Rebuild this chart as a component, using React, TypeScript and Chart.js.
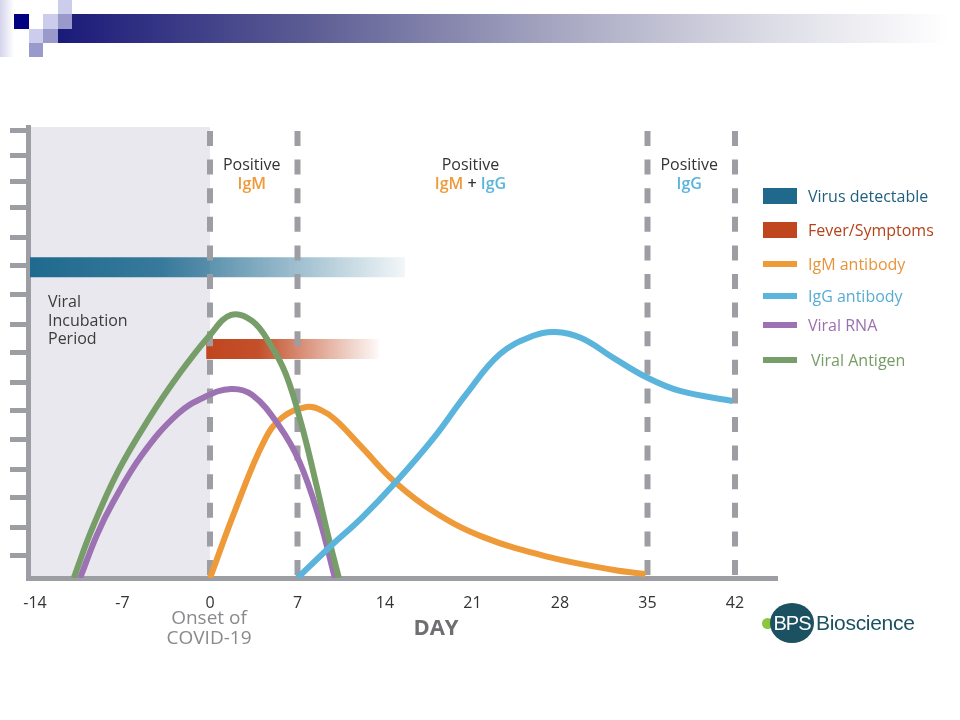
import { useEffect, useRef } from "react";
import { Chart, registerables } from "chart.js";

Chart.register(...registerables);

// ---------- data ----------
const xTickValues = [-14, -7, 0, 7, 14, 21, 28, 35, 42];
const yTickMarks = [0.77, 1.78, 2.8, 3.81, 4.83, 5.84, 6.85, 7.87, 8.88, 9.9, 10.91, 11.92, 12.94, 13.88, 14.79, 15.66];
const phaseDays = [0, 7, 35, 42];

const antigenDays = [-10.9, -9.47, -7.38, -4.86, -2.35, 0, 1.69, 3.37, 4.81, 6.07, 7.31, 8.49, 9.44, 10.31];
const antigenLevel = [0, 1.68, 3.71, 5.59, 7.2, 8.5, 9.2, 8.99, 8.18, 7.13, 5.38, 3.29, 1.5, 0];

const rnaDays = [-10.39, -9.05, -7.79, -5.45, -2.6, -0.42, 1.69, 3.37, 5.48, 7.16, 8.73, 9.99];
const rnaLevel = [0, 1.5, 2.62, 4.3, 5.73, 6.33, 6.61, 6.4, 5.35, 4.06, 2.1, 0];

const igmDays = [0, 2.11, 4.38, 5.82, 7.71, 8.89, 10.07, 12.19, 14.79, 17.94, 21.87, 27.14, 32.33, 34.85];
const igmLevel = [0, 2.48, 4.83, 5.63, 5.98, 5.87, 5.52, 4.55, 3.36, 2.31, 1.43, 0.73, 0.28, 0.14];

const iggDays = [7.0, 9.5, 12.2, 14.8, 17.9, 20.5, 23.2, 25.8, 27.6, 29.7, 32.3, 35.0, 37.6, 41.8];
const iggLevel = [0, 1.05, 2.13, 3.32, 4.9, 6.43, 7.83, 8.46, 8.6, 8.39, 7.69, 7.0, 6.54, 6.19];

const virusSpan = [-14.4, 15.6];
const virusLevel = 10.87;
const feverSpan = [-0.3, 13.5];
const feverLevel = 8.01;

const X_MIN = -14.56;
const X_MAX = 45.36;
const Y_MAX = 15.77;

const C_VIRUS = "#20698c";
const C_FEVER = "#c0461f";
const C_IGM = "#ef9a39";
const C_IGG = "#5ab4dc";
const C_RNA = "#9c72b2";
const C_ANTIGEN = "#779e68";
const C_GRAY = "#9d9da4";
const C_SHADE = "#e8e8ee";
const FONT = "'Open Sans', 'Noto Sans', sans-serif";

const legendItems = [
  { label: "Virus detectable", color: C_VIRUS, text: "#1f5f80", y: 196, box: true },
  { label: "Fever/Symptoms", color: C_FEVER, text: "#b4431c", y: 230, box: true },
  { label: "IgM antibody", color: C_IGM, text: "#e8943a", y: 264, box: false },
  { label: "IgG antibody", color: C_IGG, text: "#58acd4", y: 296, box: false },
  { label: "Viral RNA", color: C_RNA, text: "#9a70b0", y: 325, box: false },
  { label: "Viral Antigen", color: C_ANTIGEN, text: "#769c66", y: 360, box: false },
];

const pts = (xs: number[], ys: number[]) => xs.map((x, i) => ({ x, y: ys[i] }));

const makeGradient = (chart: any, span: number[], rgb: string, stops: number[][]) => {
  const xs = chart.scales?.x;
  if (!chart.chartArea || !xs) return `rgb(${rgb})`;
  const g = chart.ctx.createLinearGradient(xs.getPixelForValue(span[0]), 0, xs.getPixelForValue(span[1]), 0);
  stops.forEach(([p, a]) => g.addColorStop(p, `rgba(${rgb},${a})`));
  return g;
};

const drawPlugin = {
  id: "decor",
  beforeDraw(chart: any) {
    const { ctx, chartArea, scales } = chart;
    const x0 = scales.x.getPixelForValue(0);
    ctx.save();
    ctx.fillStyle = C_SHADE;
    ctx.fillRect(chartArea.left, chartArea.top, x0 - chartArea.left, chartArea.bottom - chartArea.top);
    ctx.restore();
  },
  afterDraw(chart: any) {
    const { ctx, scales } = chart;
    const xs = scales.x;
    ctx.save();
    ctx.textAlign = "center";
    ctx.textBaseline = "alphabetic";
    ctx.font = `16px ${FONT}`;
    ctx.fillStyle = "#333333";
    const mids = [
      (phaseDays[0] + phaseDays[1]) / 2,
      (phaseDays[1] + phaseDays[2]) / 2,
      (phaseDays[2] + phaseDays[3]) / 2,
    ];
    mids.forEach((d) => ctx.fillText("Positive", xs.getPixelForValue(d) - 2, 170));
    ctx.font = `600 16px ${FONT}`;
    ctx.fillStyle = C_IGM;
    ctx.fillText("IgM", xs.getPixelForValue(mids[0]) - 2, 189);
    ctx.fillStyle = C_IGG;
    ctx.fillText("IgG", xs.getPixelForValue(mids[2]) - 2, 189);
    const parts: [string, string][] = [["IgM", C_IGM], [" + ", "#333333"], ["IgG", C_IGG]];
    const widths = parts.map((p) => ctx.measureText(p[0]).width);
    const total = widths.reduce((a, b) => a + b, 0);
    let cx = xs.getPixelForValue(mids[1]) - 2 - total / 2;
    ctx.textAlign = "left";
    parts.forEach((p, i) => {
      ctx.fillStyle = p[1];
      ctx.fillText(p[0], cx, 189);
      cx += widths[i];
    });
    ctx.font = `16px ${FONT}`;
    ctx.fillStyle = "#3c3c3c";
    ["Viral", "Incubation", "Period"].forEach((t, i) => ctx.fillText(t, 48, 307 + i * 18.5));
    ctx.textAlign = "center";
    ctx.font = `19px ${FONT}`;
    ctx.fillStyle = "#8a8a8e";
    const x0 = xs.getPixelForValue(0) - 1;
    ctx.fillText("Onset of", x0, 624);
    ctx.fillText("COVID-19", x0, 644);
    ctx.font = `bold 22px ${FONT}`;
    ctx.fillStyle = "#6e6e73";
    ctx.fillText("DAY", 436, 635);
    ctx.restore();
  },
};

function ChartCanvas() {
  const ref = useRef<HTMLCanvasElement | null>(null);
  useEffect(() => {
    if (!ref.current) return;
    const curve = (label: string, xs: number[], ys: number[], color: string, order: number) => ({
      label,
      data: pts(xs, ys),
      borderColor: color,
      borderWidth: 6,
      tension: 0.4,
      pointRadius: 0,
      fill: false,
      order,
    });
    const dashed = phaseDays.map((d) => ({
      label: `day${d}`,
      data: [{ x: d, y: 0 }, { x: d, y: Y_MAX }],
      borderColor: C_GRAY,
      borderWidth: 6,
      borderDash: [15, 13.6],
      borderDashOffset: 25.6,
      pointRadius: 0,
      fill: false,
      tension: 0,
      order: 5,
    }));
    const chart = new Chart(ref.current, {
      type: "line",
      data: {
        datasets: [
          curve("IgG antibody", iggDays, iggLevel, C_IGG, 1),
          curve("Viral Antigen", antigenDays, antigenLevel, C_ANTIGEN, 2),
          curve("Viral RNA", rnaDays, rnaLevel, C_RNA, 3),
          curve("IgM antibody", igmDays, igmLevel, C_IGM, 4),
          ...dashed,
          {
            label: "Virus detectable",
            data: [{ x: virusSpan[0], y: virusLevel }, { x: virusSpan[1], y: virusLevel }],
            borderColor: (c: any) =>
              makeGradient(c.chart, virusSpan, "31,106,143", [[0, 1], [0.35, 0.88], [0.62, 0.55], [1, 0.06]]),
            borderWidth: 20,
            pointRadius: 0,
            fill: false,
            order: 10,
          } as any,
          {
            label: "Fever/Symptoms",
            data: [{ x: feverSpan[0], y: feverLevel }, { x: feverSpan[1], y: feverLevel }],
            borderColor: (c: any) =>
              makeGradient(c.chart, feverSpan, "192,70,31", [[0, 1], [0.3, 0.95], [0.6, 0.55], [1, 0.03]]),
            borderWidth: 20,
            pointRadius: 0,
            fill: false,
            order: 10,
          } as any,
        ],
      },
      options: {
        animation: false,
        responsive: false,
        devicePixelRatio: 1,
        events: [],
        layout: { padding: { left: 10, right: 183, top: 127, bottom: 82 } },
        plugins: { legend: { display: false }, tooltip: { enabled: false } },
        scales: {
          x: {
            type: "linear",
            min: X_MIN,
            max: X_MAX,
            afterFit: (s: any) => {
              s.height = 60;
            },
            afterBuildTicks: (s: any) => {
              s.ticks = xTickValues.map((value) => ({ value }));
            },
            grid: { display: false },
            border: { display: true, color: C_GRAY, width: 5 },
            ticks: {
              padding: 8,
              color: "#333333",
              font: { family: FONT, size: 16 },
              maxRotation: 0,
              autoSkip: false,
              callback: (v: any) => String(v),
            },
          },
          y: {
            type: "linear",
            min: 0,
            max: Y_MAX,
            afterFit: (s: any) => {
              s.width = 18;
            },
            afterBuildTicks: (s: any) => {
              s.ticks = yTickMarks.map((value) => ({ value }));
            },
            grid: {
              display: true,
              drawOnChartArea: false,
              drawTicks: true,
              tickLength: 18,
              tickWidth: 5,
              tickColor: C_GRAY,
            },
            border: { display: true, color: C_GRAY, width: 5 },
            ticks: { display: false },
          },
        },
      } as any,
      plugins: [drawPlugin],
    });
    return () => chart.destroy();
  }, []);
  return <canvas ref={ref} width={960} height={720} style={{ display: "block", width: 960, height: 720 }} />;
}

function Banner() {
  const sq = (left: number, top: number, w: number, h: number, bg: string) => (
    <div style={{ position: "absolute", left, top, width: w, height: h, background: bg }} />
  );
  return (
    <>
      <div
        style={{
          position: "absolute",
          left: 58,
          top: 14,
          width: 890,
          height: 29,
          background: "linear-gradient(to right, #1a1a7a 0%, #5c5c94 28%, #a4a4c0 55%, #dcdce6 80%, #ffffff 100%)",
        }}
      />
      <div style={{ position: "absolute", left: 0, top: 0, width: 14, height: 57, background: "linear-gradient(to right, #d4d4ec, #ffffff)" }} />
      {sq(14, 14, 15, 15, "#000080")}
      {sq(43, 14, 15, 15, "#ccccec")}
      {sq(58, 0, 14, 14, "#ccccec")}
      {sq(58, 14, 14, 15, "#9999cc")}
      {sq(29, 29, 14, 14, "#ccccec")}
      {sq(43, 29, 15, 14, "#9999cc")}
      {sq(29, 43, 14, 14, "#9999cc")}
    </>
  );
}

function Legend() {
  return (
    <>
      {legendItems.map((it) => (
        <div key={it.label}>
          <div
            style={{
              position: "absolute",
              left: 763,
              top: it.box ? it.y - 8 : it.y - 3,
              width: 34,
              height: it.box ? 16 : 6,
              background: it.color,
            }}
          />
          <div
            style={{
              position: "absolute",
              left: it.label === "Viral Antigen" ? 811 : 808,
              top: it.y - 12,
              height: 24,
              lineHeight: "24px",
              fontFamily: FONT,
              fontSize: 16,
              color: it.text,
              whiteSpace: "nowrap",
            }}
          >
            {it.label}
          </div>
        </div>
      ))}
    </>
  );
}

function Logo() {
  return (
    <>
      <div style={{ position: "absolute", left: 762, top: 618, width: 11, height: 11, borderRadius: "50%", background: "#8cc63e" }} />
      <div
        style={{
          position: "absolute",
          left: 770,
          top: 603,
          width: 44,
          height: 40,
          borderRadius: "50%",
          background: "#1b5160",
          color: "#ffffff",
          fontFamily: "'Liberation Sans', Arial, sans-serif",
          fontSize: 20,
          lineHeight: "40px",
          textAlign: "center",
          letterSpacing: -1,
        }}
      >
        BPS
      </div>
      <div
        style={{
          position: "absolute",
          left: 816,
          top: 611,
          height: 24,
          lineHeight: "24px",
          fontFamily: "'Liberation Sans', Arial, sans-serif",
          fontSize: 21,
          color: "#1b5160",
          letterSpacing: -0.3,
        }}
      >
        Bioscience
      </div>
    </>
  );
}

export default function App() {
  return (
    <div style={{ position: "fixed", left: 0, top: 0, width: 960, height: 720, background: "#ffffff", overflow: "hidden" }}>
      <ChartCanvas />
      <Banner />
      <Legend />
      <Logo />
    </div>
  );
}
